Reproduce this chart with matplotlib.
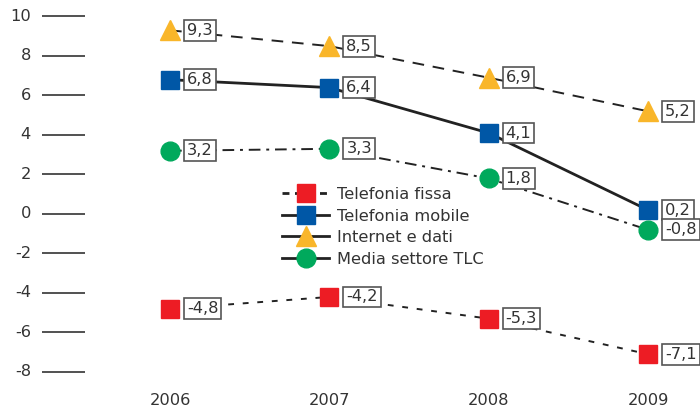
import matplotlib
matplotlib.use('Agg')
import matplotlib.pyplot as plt
from matplotlib.lines import Line2D
from matplotlib.transforms import blended_transform_factory

plt.rcParams['font.family'] = ['DejaVu Sans']

# ------------------------------------------
# DATA
# ------------------------------------------
years = [2006, 2007, 2008, 2009]
fissa = [-4.8, -4.2, -5.3, -7.1]
mobile = [6.8, 6.4, 4.1, 0.2]
internet = [9.3, 8.5, 6.9, 5.2]
media = [3.2, 3.3, 1.8, -0.8]
y_ticks = [10, 8, 6, 4, 2, 0, -2, -4, -6, -8]

FS = 11.7
series = [
    ('Telefonia fissa', fissa, '#ED1C24', 's', (0, (3, 4.5)), 1.4, 12.5),
    ('Telefonia mobile', mobile, '#0057A6', 's', '-', 2.0, 12.5),
    ('Internet e dati', internet, '#F9B62A', '^', (0, (6, 4.5)), 1.4, 14),
    ('Media settore TLC', media, '#00A95C', 'o', (0, (6, 3, 1.5, 3)), 1.4, 13.5),
]

fig = plt.figure(figsize=(7.0, 4.11), dpi=100)
ax = fig.add_axes([0, 0, 1, 1])
ax.set_xlim(2004.933, 2009.326)
ax.set_ylim(-9.975, 10.835)
ax.axis('off')

# left "axis": short horizontal lines with labels
ytr = ax.get_yaxis_transform()
ax.hlines(y_ticks, 42 / 700, 85 / 700, transform=ytr, color='#333333', lw=1.2)
for v in y_ticks:
    ax.text(31 / 700, v, str(v), transform=ytr, ha='right', va='center',
            fontsize=FS, color='#333333')

# year labels
xtr = blended_transform_factory(ax.transData, ax.transAxes)
for yr in years:
    ax.text(yr, 1 - 400 / 411, str(yr), transform=xtr, ha='center', va='center',
            fontsize=FS, color='#333333')

handles = []
for name, vals, color, mk, ls, lw, ms in series:
    ax.plot(years, vals, color='#222222', ls=ls, lw=lw, marker=mk,
            markerfacecolor=color, markeredgecolor=color, markersize=ms,
            zorder=2)
    leg_ls = (0, (2.5, 2)) if name == 'Telefonia fissa' else '-'
    handles.append(Line2D([], [], color='#222222', ls=leg_ls, lw=2.0,
                          marker=mk, markerfacecolor=color,
                          markeredgecolor=color, markersize=ms, label=name))
    for x, v in zip(years, vals):
        ax.annotate(f'{v:.1f}'.replace('.', ','), (x, v), xytext=(17, 0),
                    textcoords='offset pixels', ha='left', va='center',
                    fontsize=FS, color='#333333', zorder=3,
                    bbox=dict(boxstyle='square,pad=0.18', fc='white',
                              ec='#555555', lw=1.2))

ax.legend(handles=handles, loc='upper left',
          bbox_to_anchor=(282 / 700, 1 - 187 / 411),
          bbox_transform=fig.transFigure, frameon=False, fontsize=FS,
          handlelength=2.9, handletextpad=0.5, labelspacing=0.4,
          borderpad=0, borderaxespad=0, labelcolor='#333333')

fig.savefig('out.png', dpi=100)
